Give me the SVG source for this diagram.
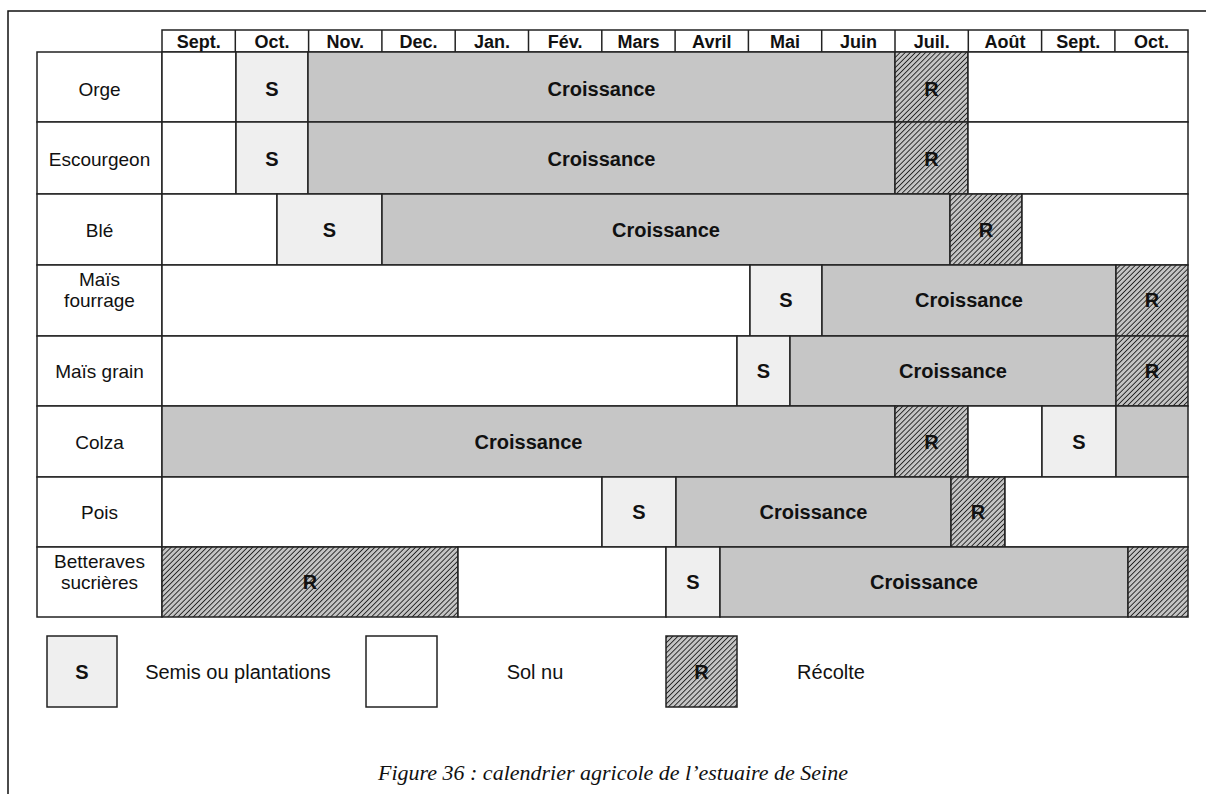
<svg xmlns="http://www.w3.org/2000/svg" width="1206" height="794" viewBox="0 0 1206 794">
<style>
.c{stroke:#222;stroke-width:1.5}
.w{fill:#fff}
.g{fill:#c6c6c6}
.s{fill:#efefef}
.r{fill:url(#hatch)}
.b{font-family:"Liberation Sans",Arial,sans-serif;font-weight:bold;font-size:20px;fill:#111;text-anchor:middle}
.h{font-family:"Liberation Sans",Arial,sans-serif;font-weight:bold;font-size:18px;fill:#111;text-anchor:middle}
.l{font-family:"Liberation Sans",Arial,sans-serif;font-size:19px;fill:#111;text-anchor:middle}
.lg{font-family:"Liberation Sans",Arial,sans-serif;font-size:20px;fill:#111;text-anchor:middle}
.cap{font-family:"Liberation Serif","Times New Roman",serif;font-style:italic;font-size:22px;fill:#111;text-anchor:middle}
</style>
<defs>
<pattern id="hatch" patternUnits="userSpaceOnUse" width="3.6" height="3.6" patternTransform="rotate(45)">
<rect width="3.6" height="3.6" fill="#c4c4c4"/>
<line x1="0" y1="0" x2="0" y2="3.6" stroke="#222" stroke-width="1.8"/>
</pattern>
</defs>
<rect width="1206" height="794" fill="#fff"/>
<path d="M8,794 V11 H1206" fill="none" stroke="#111" stroke-width="1.5"/>

<g id="header">
<rect class="c w" x="162" y="30" width="1026" height="22"/>
<g class="c">
<line x1="235.3" y1="30" x2="235.3" y2="52"/><line x1="308.6" y1="30" x2="308.6" y2="52"/>
<line x1="381.9" y1="30" x2="381.9" y2="52"/><line x1="455.2" y1="30" x2="455.2" y2="52"/>
<line x1="528.5" y1="30" x2="528.5" y2="52"/><line x1="601.8" y1="30" x2="601.8" y2="52"/>
<line x1="675.1" y1="30" x2="675.1" y2="52"/><line x1="748.4" y1="30" x2="748.4" y2="52"/>
<line x1="821.7" y1="30" x2="821.7" y2="52"/><line x1="895" y1="30" x2="895" y2="52"/>
<line x1="968.3" y1="30" x2="968.3" y2="52"/><line x1="1041.6" y1="30" x2="1041.6" y2="52"/>
<line x1="1114.9" y1="30" x2="1114.9" y2="52"/>
</g>
<g class="h">
<text x="198.7" y="48">Sept.</text><text x="272" y="48">Oct.</text><text x="345.3" y="48">Nov.</text>
<text x="418.6" y="48">Dec.</text><text x="491.9" y="48">Jan.</text><text x="565.2" y="48">Fév.</text>
<text x="638.5" y="48">Mars</text><text x="711.8" y="48">Avril</text><text x="785.1" y="48">Mai</text>
<text x="858.4" y="48">Juin</text><text x="931.7" y="48">Juil.</text><text x="1005" y="48">Août</text>
<text x="1078.3" y="48">Sept.</text><text x="1151.6" y="48">Oct.</text>
</g>
</g>

<g id="row-orge">
<rect class="c w" x="37" y="52" width="125" height="70"/>
<text class="l" x="99.5" y="96">Orge</text>
<rect class="c w" x="162" y="52" width="74" height="70"/>
<rect class="c s" x="236" y="52" width="72" height="70"/>
<rect class="c g" x="308" y="52" width="587" height="70"/>
<rect class="c r" x="895" y="52" width="73" height="70"/>
<rect class="c w" x="968" y="52" width="220" height="70"/>
<text class="b" x="272" y="96">S</text><text class="b" x="601.5" y="96">Croissance</text><text class="b" x="931.5" y="96">R</text>
</g>

<g id="row-escourgeon">
<rect class="c w" x="37" y="122" width="125" height="72"/>
<text class="l" x="99.5" y="166">Escourgeon</text>
<rect class="c w" x="162" y="122" width="74" height="72"/>
<rect class="c s" x="236" y="122" width="72" height="72"/>
<rect class="c g" x="308" y="122" width="587" height="72"/>
<rect class="c r" x="895" y="122" width="73" height="72"/>
<rect class="c w" x="968" y="122" width="220" height="72"/>
<text class="b" x="272" y="166">S</text><text class="b" x="601.5" y="166">Croissance</text><text class="b" x="931.5" y="166">R</text>
</g>

<g id="row-ble">
<rect class="c w" x="37" y="194" width="125" height="71"/>
<text class="l" x="99.5" y="237">Blé</text>
<rect class="c w" x="162" y="194" width="115" height="71"/>
<rect class="c s" x="277" y="194" width="105" height="71"/>
<rect class="c g" x="382" y="194" width="568" height="71"/>
<rect class="c r" x="950" y="194" width="72" height="71"/>
<rect class="c w" x="1022" y="194" width="166" height="71"/>
<text class="b" x="329.5" y="237">S</text><text class="b" x="666" y="237">Croissance</text><text class="b" x="986" y="237">R</text>
</g>

<g id="row-mais-fourrage">
<rect class="c w" x="37" y="265" width="125" height="71"/>
<text class="l" x="99.5" y="286">Maïs</text><text class="l" x="99.5" y="307">fourrage</text>
<rect class="c w" x="162" y="265" width="588" height="71"/>
<rect class="c s" x="750" y="265" width="72" height="71"/>
<rect class="c g" x="822" y="265" width="294" height="71"/>
<rect class="c r" x="1116" y="265" width="72" height="71"/>
<text class="b" x="786" y="307">S</text><text class="b" x="969" y="307">Croissance</text><text class="b" x="1152" y="307">R</text>
</g>

<g id="row-mais-grain">
<rect class="c w" x="37" y="336" width="125" height="70"/>
<text class="l" x="99.5" y="378">Maïs grain</text>
<rect class="c w" x="162" y="336" width="575" height="70"/>
<rect class="c s" x="737" y="336" width="53" height="70"/>
<rect class="c g" x="790" y="336" width="326" height="70"/>
<rect class="c r" x="1116" y="336" width="72" height="70"/>
<text class="b" x="763.5" y="378">S</text><text class="b" x="953" y="378">Croissance</text><text class="b" x="1152" y="378">R</text>
</g>

<g id="row-colza">
<rect class="c w" x="37" y="406" width="125" height="71"/>
<text class="l" x="99.5" y="449">Colza</text>
<rect class="c g" x="162" y="406" width="733" height="71"/>
<rect class="c r" x="895" y="406" width="73" height="71"/>
<rect class="c w" x="968" y="406" width="74" height="71"/>
<rect class="c s" x="1042" y="406" width="74" height="71"/>
<rect class="c g" x="1116" y="406" width="72" height="71"/>
<text class="b" x="528.5" y="449">Croissance</text><text class="b" x="931.5" y="449">R</text><text class="b" x="1079" y="449">S</text>
</g>

<g id="row-pois">
<rect class="c w" x="37" y="477" width="125" height="70"/>
<text class="l" x="99.5" y="519">Pois</text>
<rect class="c w" x="162" y="477" width="440" height="70"/>
<rect class="c s" x="602" y="477" width="74" height="70"/>
<rect class="c g" x="676" y="477" width="275" height="70"/>
<rect class="c r" x="951" y="477" width="54" height="70"/>
<rect class="c w" x="1005" y="477" width="183" height="70"/>
<text class="b" x="639" y="519">S</text><text class="b" x="813.5" y="519">Croissance</text><text class="b" x="978" y="519">R</text>
</g>

<g id="row-betteraves">
<rect class="c w" x="37" y="547" width="125" height="70"/>
<text class="l" x="99.5" y="568">Betteraves</text><text class="l" x="99.5" y="589">sucrières</text>
<rect class="c r" x="162" y="547" width="296" height="70"/>
<rect class="c w" x="458" y="547" width="208" height="70"/>
<rect class="c s" x="666" y="547" width="54" height="70"/>
<rect class="c g" x="720" y="547" width="408" height="70"/>
<rect class="c r" x="1128" y="547" width="60" height="70"/>
<text class="b" x="310" y="589">R</text><text class="b" x="693" y="589">S</text><text class="b" x="924" y="589">Croissance</text>
</g>

<g id="legend-s">
<rect class="c s" x="47" y="636" width="70" height="71"/>
<text class="b" x="82" y="679">S</text>
<text class="lg" x="238" y="679">Semis ou plantations</text>
</g>
<g id="legend-sol">
<rect class="c w" x="366" y="636" width="71" height="71"/>
<text class="lg" x="535" y="679">Sol nu</text>
</g>
<g id="legend-r">
<rect class="c r" x="666" y="636" width="71" height="71"/>
<text class="b" x="701.5" y="679">R</text>
<text class="lg" x="831" y="679">Récolte</text>
</g>

<text class="cap" x="613" y="780">Figure 36 : calendrier agricole de l’estuaire de Seine</text>
</svg>
